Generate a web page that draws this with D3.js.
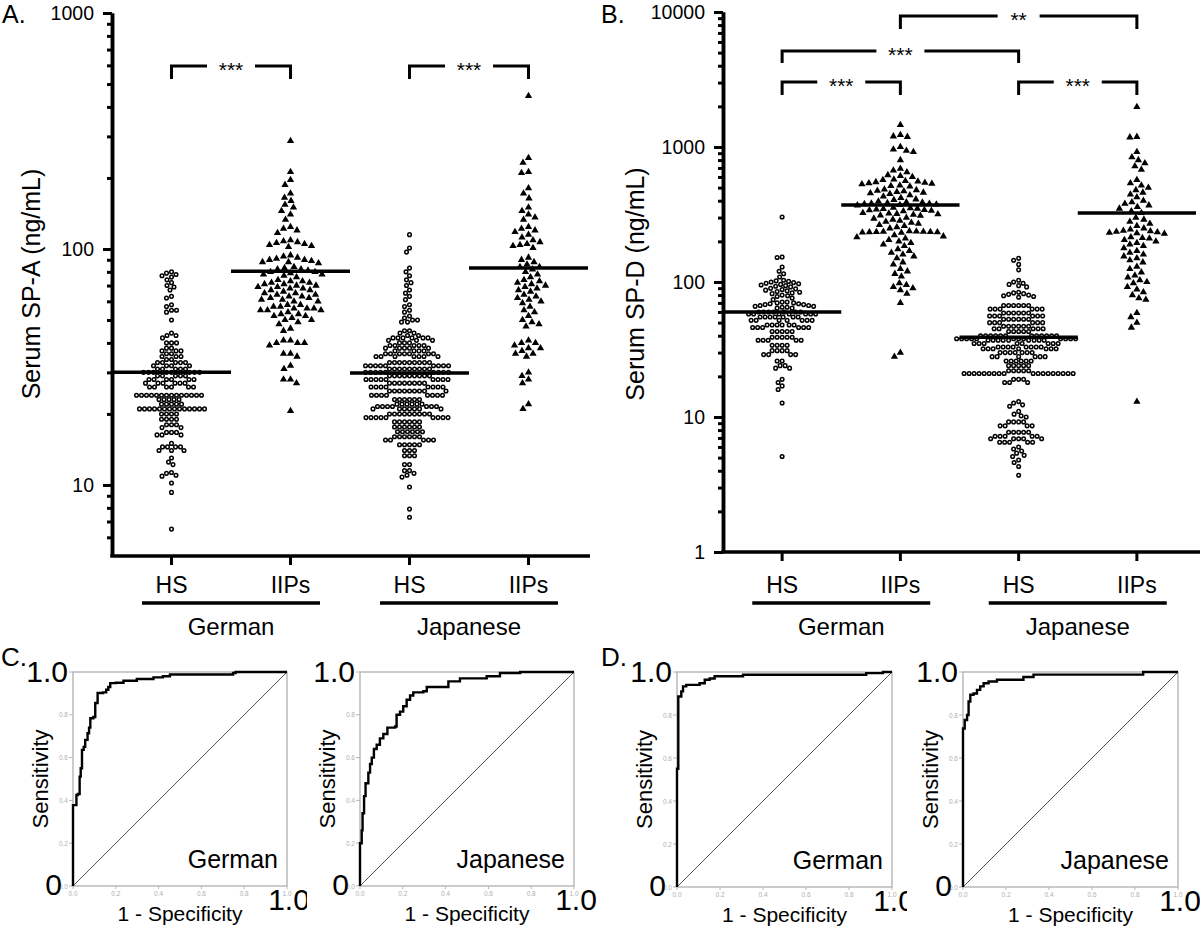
<!DOCTYPE html>
<html><head><meta charset="utf-8">
<script src="https://cdn.jsdelivr.net/npm/d3@7"></script>
<style>body{margin:0;background:#fff}svg{display:block;font-family:"Liberation Sans",Arial,sans-serif}</style>
</head><body><svg id="c" width="1200" height="931"></svg>
<script>
// ---------------- data ----------------
const categories = ["HS","IIPs","HS","IIPs"];
const groups = ["German","Japanese"];
const spaMajorTicks = [10,100,1000];
const spaMinorTicks = [6,7,8,9,20,30,40,50,60,70,80,90,200,300,400,500,600,700,800,900];
const spdMajorTicks = [1,10,100,1000,10000];
const spdMinorTicks = [2,3,4,5,6,7,8,9,20,30,40,50,60,70,80,90,200,300,400,500,600,700,800,900,2000,3000,4000,5000,6000,7000,8000,9000];

const spaGermanHS = [80,79,78,77,76,74,72,70,69,67,63,62,58,57,55,55,54,50,
 44,43,43,42,40,40,40,38,38,37,37,37,36,36,
 35,35,35,34,34,33,33,33,33,33,32,32,32,32,
 31,31,31,31,31,30,30,30,30,30,30,30,30,
 29,29,29,29,29,28,28,28,28,28,28,
 27,27,27,27,27,27,26,26,26,26,26,26,
 24,24,24,24,24,24,24,24,24,24,24,24,24,24,
 23,23,23,23,23,22,22,22,22,22,
 21,21,21,21,21,21,21,21,21,21,21,21,21,21,
 20,20,20,20,19,19,19,19,18,18,18,17.5,17.5,
 16.7,16.7,16.7,16.3,16.3,16.3,15,14.5,14.5,14.5,14.5,14,14,14,
 13,12.5,12.2,11.3,11.2,11,10.9,10.2,9.3,6.5];
const spaGermanIIPs = [287,212,196,187,172,165,160,154,150,145,140,133,124,122,120,117,
 109,108,107,106,105,104,103,102,
 94,93,92,91,90,90,89,88,88,87,
 84,83,82,82,81,80,80,79,78,78,77,76,
 74,73,73,72,72,71,71,70,70,69,69,68,68,67,67,66,65,65,
 64,64,63,63,62,62,61,61,60,60,
 58,58,57,57,56,56,56,55,55,55,
 54,53,53,52,52,51,50,50,
 49,48,46,45,
 41,41,40,40,40,39,
 36,36,35,32,31,28,28,27,20.6];
const spaJapaneseHS = [115,101,97,83,80,77,74,72,70,67,65,63,61,
 58,57,55,54,52,51,50,50,49,49,
 45,45,44,44,43,43,
 42,42,42,42,42,42,41,41,41,40,40,40,
 39,39,39,39,39,38,38,38,38,38,37,37,37,37,
 36,36,36,36,36,36,36,35,35,35,35,35,35,35,
 33,33,33,33,33,33,33,33,33,32,32,32,32,32,32,32,32,32,
 31,31,31,31,31,31,31,31,31,30,30,30,30,30,30,30,30,30,
 29,29,29,29,29,29,29,29,29,28,28,28,28,28,28,28,28,28,
 27,27,27,27,27,27,27,27,26,26,26,26,26,26,26,26,
 25,25,25,25,25,25,25,25,25,24,24,24,24,24,24,24,24,
 23,23,23,23,23,23,22,22,22,22,22,22,
 21.5,21.5,21.5,21.5,21.5,21.5,21.5,21,21,21,21,21,21,21,
 20,20,20,20,20,20,20,20,20,19.3,19.3,19.3,19.3,19.3,19.3,19.3,19.3,19.3,
 18.5,18.5,18.5,18.5,18.5,18.5,17.6,17.6,17.6,17.6,17.6,17.6,
 16.8,16.8,16.8,16.8,16.8,16.8,16,16,16,16,16,16,
 15.5,15.5,15.5,15.5,15.5,14.8,14.8,14.8,14.8,14.8,
 14,14,14,13.3,13.3,13.3,
 12.2,12.2,11.5,11.5,11.2,11,10.8,9.8,7.9,7.3];
const spaJapaneseIIPs = [445,243,232,212,210,181,172,164,150,145,140,136,133,
 124,122,120,118,115,112,109,107,105,104,103,101,
 92,90,88,86,84,84,82,80,78,76,
 74,73,72,71,70,69,68,67,66,64,63,62,61,60,59,
 57,55,54,52,50,49,48,47,
 41,40,40,39,38,38,37,36,36,35,
 30,29,28,27,22,21];

const spdGermanHS = [303,153,152,129,120,115,109,
 103,102,101,100,99,98,97,96,95,94,93,92,
 90,89,88,87,86,85,84,83,82,80,79,78,76,74,
 71,71,70,70,69,69,68,68,67,67,66,66,65,65,64,64,
 60,60,60,60,60,60,60,58,58,58,58,58,58,58,55,55,55,55,55,55,55,52,52,52,52,52,52,52,
 48,48,48,48,48,48,46,46,46,46,46,46,43,43,43,43,43,
 39,39,39,39,39,37,37,37,37,37,34,34,34,34,
 31,31,31,31,29,29,29,29,
 26,26,24,24,23,23,
 19,18,17,16,12.7,5.1];
const spdGermanIIPs = [1455,1230,1200,1190,1000,960,940,920,800,
 690,670,650,620,610,600,
 575,570,560,555,550,545,540,535,530,520,515,510,
 485,480,475,470,465,460,455,450,440,430,420,410,405,
 395,390,388,385,382,380,378,375,372,370,
 355,352,350,348,345,342,340,338,335,
 325,322,320,318,315,312,310,
 300,295,290,285,280,275,270,265,260,255,250,
 238,237,236,236,235,235,234,234,233,232,
 222,218,215,210,205,200,195,190,185,
 175,170,165,160,155,150,
 140,135,125,120,115,110,
 98,95,92,90,87,82,70,30,28];
const spdJapaneseHS = [150,145,135,123,103,100,98,96,94,92,
 84,83,82,81,80,79,78,77,
 67,67,67,67,67,67,63,63,63,63,63,63,
 59,59,59,59,59,59,56,56,56,56,56,56,53,53,53,53,53,53,
 50,50,50,50,50,50,47,47,47,47,47,47,45,45,45,45,45,43,43,43,43,43,
 40,40,40,40,40,40,40,40,40,40,40,40,38,38,38,38,38,38,38,38,38,38,38,38,
 37,37,37,37,37,37,37,37,37,35,35,35,35,35,35,35,35,33,33,33,33,33,33,33,33,
 32,32,32,32,32,32,32,30,30,30,30,30,30,30,28,28,28,28,28,28,
 26,26,26,26,26,26,24,24,24,24,24,22,22,22,22,22,
 21,21,21,21,21,21,21,21,21,21,21,21,21,21,21,21,21,21,
 19,19,19,18,18,18,
 13,12.7,12.3,12,11,10.5,10.2,10,
 9.2,9.2,9.2,9.2,8.6,8.6,8.6,8.6,
 7.7,7.7,7.7,7.7,7.7,7.2,7.2,7.2,7.2,7.2,
 6.9,6.9,6.9,6.9,6.9,6.5,6.5,6.5,6.5,6.5,
 6,5.8,5.6,5.4,5.2,5.1,4.8,4.6,4.3,3.7];
const spdJapaneseIIPs = [1980,1190,1180,920,840,800,760,720,680,
 570,540,520,500,480,460,445,425,
 400,390,380,370,360,350,335,325,
 300,290,280,270,260,250,245,240,
 238,236,234,232,230,228,215,212,210,205,
 200,195,190,185,178,170,165,160,155,150,
 145,140,130,125,118,112,108,103,
 100,98,92,88,84,80,76,74,
 59,55,50,46,13];

const spaMedians = [30, 80.5, 29.8, 83];
const spdMedians = [60, 372, 39, 324];

const rocTicks = [0,0.2,0.4,0.6,0.8,1.0];
const rocSpaGermanFpr = [0,0,0.016,0.023,0.031,0.036,0.042,0.05,0.057,0.068,0.075,0.081,0.095,0.104,0.115,0.14,0.155,0.165,0.174,0.2,0.236,0.298,0.376,0.42,0.453,0.748,0.76,1];
const rocSpaGermanTpr = [0,0.378,0.425,0.43,0.511,0.55,0.636,0.65,0.683,0.714,0.74,0.784,0.79,0.855,0.902,0.905,0.917,0.93,0.948,0.95,0.959,0.967,0.975,0.98,0.988,0.995,1,1];
const rocSpaJapaneseFpr = [0,0,0.008,0.012,0.019,0.026,0.039,0.047,0.055,0.065,0.078,0.093,0.109,0.128,0.164,0.171,0.187,0.202,0.218,0.234,0.249,0.296,0.312,0.413,0.467,0.592,0.654,0.748,1];
const rocSpaJapaneseTpr = [0,0.2,0.26,0.34,0.42,0.48,0.53,0.57,0.6,0.64,0.66,0.69,0.71,0.74,0.745,0.8,0.815,0.84,0.87,0.89,0.905,0.91,0.93,0.956,0.97,0.98,0.995,1,1];
const rocSpdGermanFpr = [0,0,0.006,0.02,0.028,0.043,0.105,0.129,0.152,0.175,0.307,0.88,0.958,1];
const rocSpdGermanTpr = [0,0.55,0.886,0.91,0.933,0.94,0.948,0.964,0.97,0.98,0.987,0.995,1,1];
const rocSpdJapaneseFpr = [0,0,0.008,0.019,0.026,0.034,0.049,0.065,0.08,0.096,0.119,0.158,0.281,0.328,0.838,1];
const rocSpdJapaneseTpr = [0,0.7375,0.777,0.8,0.8625,0.894,0.9,0.917,0.933,0.948,0.956,0.964,0.977,0.988,1,1];

// ---------------- drawing ----------------
const svg = d3.select("#c");
const FONT = '"Liberation Sans",Arial,sans-serif';

function swarm(values, y, cx, diam) {
  const pts = values.map(v => ({v, y: y(v), x: cx})).sort((a,b) => a.y - b.y);
  const placed = [];
  for (const p of pts) {
    const near = placed.filter(q => Math.abs(q.y - p.y) < diam);
    for (let k = 0; k < 800; k++) {
      const dx = (k % 2 === 0 ? 1 : -1) * Math.ceil(k / 2) * 0.5;
      const x = cx + dx;
      if (near.every(q => (q.x - x) ** 2 + (q.y - p.y) ** 2 >= diam * diam)) { p.x = x; break; }
    }
    placed.push(p);
  }
  return placed;
}

function dotPanel(o) {
  const g = svg.append("g");
  const y = d3.scaleLog().domain(o.domain).range([o.bottom, o.top]);
  const x = d3.scalePoint().domain(d3.range(categories.length)).range([o.left, o.right]).padding(0.5);

  const minor = g.append("g").attr("transform", `translate(${o.left},0)`)
    .call(d3.axisLeft(y).tickValues(o.minor).tickSize(5).tickSizeOuter(0).tickFormat(""));
  const major = g.append("g").attr("transform", `translate(${o.left},0)`)
    .call(d3.axisLeft(y).tickValues(o.major).tickSize(9).tickSizeOuter(0).tickPadding(9).tickFormat(d3.format("d")));
  [minor, major].forEach(a => {
    a.select(".domain").attr("stroke", "#000").attr("stroke-width", 3.5);
    a.selectAll(".tick line").attr("stroke", "#000").attr("stroke-width", 3);
  });
  major.attr("font-family", FONT).attr("font-size", 19.5);
  major.selectAll(".tick text").attr("fill", "#000");

  // x axis
  g.append("line").attr("x1", o.left - 1.75).attr("x2", o.axisEnd).attr("y1", o.bottom).attr("y2", o.bottom)
    .attr("stroke", "#000").attr("stroke-width", 3.5);
  g.selectAll(".xt").data(categories).join("line")
    .attr("x1", (d,i) => x(i)).attr("x2", (d,i) => x(i)).attr("y1", o.bottom).attr("y2", o.bottom + 9)
    .attr("stroke", "#000").attr("stroke-width", 3);
  g.selectAll(".xl").data(categories).join("text")
    .attr("x", (d,i) => x(i)).attr("y", 593).attr("text-anchor", "middle")
    .attr("font-family", FONT).attr("font-size", 23).text(d => d);
  groups.forEach((gr, j) => {
    const mid = (x(2*j) + x(2*j+1)) / 2;
    g.append("line").attr("x1", mid - 89).attr("x2", mid + 89).attr("y1", 603).attr("y2", 603)
      .attr("stroke", "#000").attr("stroke-width", 3.5);
    g.append("text").attr("x", mid).attr("y", 635).attr("text-anchor", "middle")
      .attr("font-family", FONT).attr("font-size", 24).text(gr);
  });

  // y title
  g.append("text").attr("transform", `translate(${o.titleX},284) rotate(-90)`).attr("text-anchor", "middle")
    .attr("font-family", FONT).attr("font-size", 25).text(o.title);
  g.append("text").attr("x", o.letterX).attr("y", 23).attr("font-family", FONT).attr("font-size", 25).text(o.letter);

  // points
  const step = x.step();
  o.series.forEach((vals, i) => {
    const tri = i % 2 === 1;
    const pts = swarm(vals, y, x(i), tri ? 7 : 5);
    if (tri) {
      g.append("g").selectAll("path").data(pts).join("path")
        .attr("d", d3.symbol(d3.symbolTriangle, 23))
        .attr("transform", d => `translate(${d.x},${d.y})`).attr("fill", "#000");
    } else {
      g.append("g").selectAll("circle").data(pts).join("circle")
        .attr("cx", d => d.x).attr("cy", d => d.y).attr("r", 1.8)
        .attr("fill", "#fff").attr("stroke", "#000").attr("stroke-width", 1.5);
    }
    // median line
    g.append("line").attr("x1", x(i) - step/2).attr("x2", x(i) + step/2)
      .attr("y1", y(o.medians[i])).attr("y2", y(o.medians[i]))
      .attr("stroke", "#000").attr("stroke-width", 3.5);
  });

  // brackets
  o.brackets.forEach(b => {
    const x1 = x(b.from), x2 = x(b.to), mid = (x1 + x2) / 2, gap = b.label.length === 3 ? 24 : 21;
    const path = `M${x1},${b.yb}V${b.y}H${mid-gap}M${mid+gap},${b.y}H${x2}V${b.yb}`;
    g.append("path").attr("d", path).attr("fill", "none").attr("stroke", "#000").attr("stroke-width", 3);
    g.append("text").attr("x", mid).attr("y", b.y + 11).attr("text-anchor", "middle")
      .attr("font-family", FONT).attr("font-size", 21).text(b.label);
  });
}

dotPanel({
  domain: [5, 1000], top: 13, bottom: 556, left: 112, right: 588, axisEnd: 590,
  major: spaMajorTicks, minor: spaMinorTicks,
  series: [spaGermanHS, spaGermanIIPs, spaJapaneseHS, spaJapaneseIIPs], medians: spaMedians,
  title: "Serum SP-A (ng/mL)", titleX: 40, letter: "A.", letterX: 2,
  brackets: [{from:0,to:1,y:66,yb:79,label:"***"},{from:2,to:3,y:66,yb:79,label:"***"}]
});
dotPanel({
  domain: [1, 10000], top: 12, bottom: 552, left: 723, right: 1196, axisEnd: 1200,
  major: spdMajorTicks, minor: spdMinorTicks,
  series: [spdGermanHS, spdGermanIIPs, spdJapaneseHS, spdJapaneseIIPs], medians: spdMedians,
  title: "Serum SP-D (ng/mL)", titleX: 644, letter: "B.", letterX: 601,
  brackets: [{from:1,to:3,y:16,yb:29,label:"**"},{from:0,to:2,y:51,yb:63,label:"***"},
             {from:0,to:1,y:82,yb:95,label:"***"},{from:2,to:3,y:82,yb:95,label:"***"}]
});

function rocPanel(o) {
  const g = svg.append("g");
  g.append("rect").attr("x", o.bgX).attr("y", 642).attr("width", 293).attr("height", 289).attr("fill", "#fff");
  const x = d3.scaleLinear().domain([0,1]).range([o.left, o.left + o.size]);
  const y = d3.scaleLinear().domain([0,1]).range([o.top + o.size, o.top]);
  const bottom = o.top + o.size, right = o.left + o.size;
  g.append("rect").attr("x", o.left).attr("y", o.top).attr("width", o.size).attr("height", o.size)
    .attr("fill", "none").attr("stroke", "#a8a8a8").attr("stroke-width", 1.2);
  // small grey ticks (the top-left one is hidden under the large "1.0")
  rocTicks.forEach(t => {
    g.append("line").attr("x1", o.left - 4).attr("x2", o.left).attr("y1", y(t)).attr("y2", y(t)).attr("stroke", "#b5b5b5");
    if (t < 1) g.append("text").attr("x", o.left - 5).attr("y", y(t) + 2.5).attr("text-anchor", "end")
      .attr("font-family", FONT).attr("font-size", 6.5).attr("fill", "#b0b0b0").text(t.toFixed(1));
    g.append("line").attr("x1", x(t)).attr("x2", x(t)).attr("y1", bottom).attr("y2", bottom + 3).attr("stroke", "#b5b5b5");
    g.append("text").attr("x", x(t)).attr("y", bottom + 10).attr("text-anchor", "middle")
      .attr("font-family", FONT).attr("font-size", 6.5).attr("fill", "#b0b0b0").text(t.toFixed(1));
  });
  g.append("line").attr("x1", x(0)).attr("y1", y(0)).attr("x2", x(1)).attr("y2", y(1))
    .attr("stroke", "#444").attr("stroke-width", 0.9);
  const pts = o.fpr.map((f, i) => [f, o.tpr[i]]);
  g.append("path").attr("d", d3.line().x(d => x(d[0])).y(d => y(d[1])).curve(d3.curveStepAfter)(pts))
    .attr("fill", "none").attr("stroke", "#000").attr("stroke-width", 2.4);
  // labels
  g.append("text").attr("x", o.left - 5).attr("y", o.top + 10).attr("text-anchor", "end")
    .attr("font-family", FONT).attr("font-size", 30).text("1.0");
  g.append("text").attr("x", o.left - 11).attr("y", bottom + 9).attr("text-anchor", "end")
    .attr("font-family", FONT).attr("font-size", 30).text("0");
  g.append("text").attr("x", right + 2).attr("y", bottom + 24).attr("text-anchor", "middle")
    .attr("font-family", FONT).attr("font-size", 30).text("1.0");
  g.append("text").attr("transform", `translate(${o.left - 25},${(o.top + bottom)/2}) rotate(-90)`)
    .attr("text-anchor", "middle").attr("font-family", FONT).attr("font-size", 22).text("Sensitivity");
  g.append("text").attr("x", (o.left + right)/2).attr("y", bottom + 35).attr("text-anchor", "middle")
    .attr("font-family", FONT).attr("font-size", 21).text("1 - Specificity");
  g.append("text").attr("x", right - 9).attr("y", bottom - 18).attr("text-anchor", "end")
    .attr("font-family", FONT).attr("font-size", 25).text(o.label);
  if (o.letter) g.append("text").attr("x", o.letterX).attr("y", 666).attr("font-family", FONT)
    .attr("font-size", 26).text(o.letter);
}

rocPanel({bgX: 0, left: 73, top: 672, size: 214, fpr: rocSpaGermanFpr, tpr: rocSpaGermanTpr, label: groups[0], letter: "C.", letterX: 1});
rocPanel({bgX: 307, left: 360, top: 672, size: 214, fpr: rocSpaJapaneseFpr, tpr: rocSpaJapaneseTpr, label: groups[1]});
rocPanel({bgX: 600, left: 677, top: 672, size: 215, fpr: rocSpdGermanFpr, tpr: rocSpdGermanTpr, label: groups[0], letter: "D.", letterX: 601});
rocPanel({bgX: 907, left: 963, top: 672, size: 215, fpr: rocSpdJapaneseFpr, tpr: rocSpdJapaneseTpr, label: groups[1]});
</script></body></html>
